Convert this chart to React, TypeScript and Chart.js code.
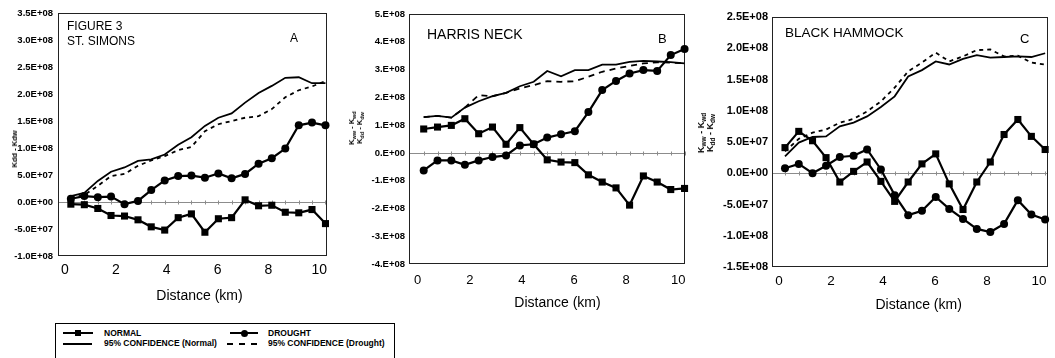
import React, { useEffect, useRef } from "react";
import { Chart, registerables } from "chart.js";
Chart.register(...registerables);

const FONT = "'Liberation Sans', Arial, Helvetica, sans-serif";

// Distance along transect (km)
const distances = [0.23, 0.76, 1.29, 1.81, 2.34, 2.87, 3.39, 3.92, 4.45, 4.97, 5.5, 6.03, 6.55, 7.08, 7.61, 8.13, 8.66, 9.19, 9.71, 10.24];
const xTickValues = [0, 2, 4, 6, 8, 10];
const xTickLabels = ["0", "2", "4", "6", "8", "10"];

// Panel A – St. Simons
const normalA = [-0.04e8, -0.05e8, -0.12e8, -0.25e8, -0.26e8, -0.33e8, -0.46e8, -0.52e8, -0.29e8, -0.22e8, -0.56e8, -0.31e8, -0.29e8, 0.04e8, -0.07e8, -0.06e8, -0.19e8, -0.2e8, -0.14e8, -0.4e8];
const droughtA = [0.06e8, 0.11e8, 0.09e8, 0.1e8, -0.04e8, 0.02e8, 0.22e8, 0.4e8, 0.48e8, 0.49e8, 0.45e8, 0.53e8, 0.44e8, 0.52e8, 0.71e8, 0.81e8, 0.99e8, 1.42e8, 1.47e8, 1.42e8];
const confNormalA = [0.11e8, 0.17e8, 0.39e8, 0.56e8, 0.64e8, 0.76e8, 0.79e8, 0.88e8, 1.06e8, 1.2e8, 1.41e8, 1.56e8, 1.64e8, 1.84e8, 2.02e8, 2.15e8, 2.3e8, 2.31e8, 2.2e8, 2.2e8];
const confDroughtA = [0.08e8, 0.13e8, 0.3e8, 0.48e8, 0.52e8, 0.67e8, 0.77e8, 0.85e8, 0.96e8, 1.02e8, 1.31e8, 1.44e8, 1.5e8, 1.56e8, 1.59e8, 1.72e8, 1.94e8, 2.07e8, 2.14e8, 2.24e8];
const yTickValuesA = [-1e8, -0.5e8, 0, 0.5e8, 1e8, 1.5e8, 2e8, 2.5e8, 3e8, 3.5e8];
const yTickLabelsA = ["-1.0E+08", "-5.0E+07", "0.0E+00", "5.0E+07", "1.0E+08", "1.5E+08", "2.0E+08", "2.5E+08", "3.0E+08", "3.5E+08"];

// Panel B – Harris Neck
const normalB = [0.86e8, 0.93e8, 0.99e8, 1.23e8, 0.69e8, 0.93e8, 0.31e8, 0.91e8, 0.31e8, -0.25e8, -0.33e8, -0.35e8, -0.79e8, -1.05e8, -1.26e8, -1.88e8, -0.83e8, -1.05e8, -1.32e8, -1.28e8];
const droughtB = [-0.63e8, -0.27e8, -0.27e8, -0.43e8, -0.27e8, -0.15e8, -0.09e8, 0.27e8, 0.31e8, 0.55e8, 0.67e8, 0.78e8, 1.47e8, 2.26e8, 2.59e8, 2.86e8, 2.98e8, 2.95e8, 3.52e8, 3.74e8];
const confNormalB = [1.29e8, 1.33e8, 1.27e8, 1.63e8, 1.86e8, 2.04e8, 2.16e8, 2.4e8, 2.56e8, 2.95e8, 2.76e8, 2.98e8, 2.98e8, 3.18e8, 3.18e8, 3.28e8, 3.31e8, 3.29e8, 3.27e8, 3.22e8];
const confDroughtB = [1.29e8, 1.33e8, 1.27e8, 1.63e8, 2.08e8, 2.04e8, 2.16e8, 2.32e8, 2.44e8, 2.58e8, 2.56e8, 2.58e8, 2.74e8, 2.92e8, 3.04e8, 3.13e8, 3.22e8, 3.26e8, 3.25e8, 3.22e8];
const yTickValuesB = [-4e8, -3e8, -2e8, -1e8, 0, 1e8, 2e8, 3e8, 4e8, 5e8];
const yTickLabelsB = ["-4.E+08", "-3.E+08", "-2.E+08", "-1.E+08", "0.E+00", "1.E+08", "2.E+08", "3.E+08", "4.E+08", "5.E+08"];

// Panel C – Black Hammock
const normalC = [0.41e8, 0.67e8, 0.52e8, 0.25e8, -0.14e8, 0.03e8, 0.18e8, -0.13e8, -0.45e8, -0.14e8, 0.15e8, 0.31e8, -0.17e8, -0.58e8, -0.14e8, 0.18e8, 0.62e8, 0.86e8, 0.59e8, 0.38e8];
const droughtC = [0.08e8, 0.15e8, 0.0, 0.12e8, 0.26e8, 0.28e8, 0.38e8, 0.06e8, -0.35e8, -0.67e8, -0.6e8, -0.38e8, -0.57e8, -0.73e8, -0.89e8, -0.94e8, -0.81e8, -0.43e8, -0.66e8, -0.74e8];
const confNormalC = [0.27e8, 0.49e8, 0.58e8, 0.59e8, 0.75e8, 0.81e8, 0.91e8, 1.06e8, 1.23e8, 1.55e8, 1.65e8, 1.79e8, 1.74e8, 1.83e8, 1.89e8, 1.85e8, 1.86e8, 1.87e8, 1.86e8, 1.92e8];
const confDroughtC = [0.35e8, 0.55e8, 0.65e8, 0.7e8, 0.81e8, 0.87e8, 0.99e8, 1.15e8, 1.37e8, 1.63e8, 1.77e8, 1.93e8, 1.79e8, 1.87e8, 1.97e8, 1.98e8, 1.87e8, 1.88e8, 1.77e8, 1.74e8];
const yTickValuesC = [-1.5e8, -1e8, -0.5e8, 0, 0.5e8, 1e8, 1.5e8, 2e8, 2.5e8];
const yTickLabelsC = ["-1.5E+08", "-1.0E+08", "-5.0E+07", "0.0E+00", "5.0E+07", "1.0E+08", "1.5E+08", "2.0E+08", "2.5E+08"];

const framePlugin = {
  id: "frame",
  beforeDatasetsDraw(chart: any) {
    const { ctx, chartArea: a, scales } = chart;
    const y0 = Math.round(scales.y.getPixelForValue(0)) + 0.5;
    ctx.save();
    ctx.strokeStyle = "#8c8c8c";
    ctx.lineWidth = 1;
    ctx.beginPath();
    ctx.moveTo(a.left, y0);
    ctx.lineTo(a.right, y0);
    for (const d of distances) {
      const x = Math.round(scales.x.getPixelForValue(d)) + 0.5;
      ctx.moveTo(x, y0 - 2);
      ctx.lineTo(x, y0 + 2);
    }
    ctx.stroke();
    ctx.strokeStyle = "#222";
    ctx.strokeRect(a.left + 0.5, a.top + 0.5, a.right - a.left - 1, a.bottom - a.top - 1);
    ctx.restore();
  },
};

type PanelProps = {
  left: number; top: number; width: number; height: number;
  area: { left: number; right: number; top: number; bottom: number };
  xMin: number; xMax: number; yMin: number; yMax: number;
  yTickValues: number[]; yTickLabels: string[];
  normal: number[]; drought: number[]; confNormal: number[]; confDrought: number[];
  dash: number[]; yFont: number; xFont: number; yPad: number; xPad: number;
};

function Panel(p: PanelProps) {
  const ref = useRef<HTMLCanvasElement>(null);
  useEffect(() => {
    const mk = (vals: number[]) => vals.map((v, i) => ({ x: distances[i], y: v }));
    const chart = new Chart(ref.current as HTMLCanvasElement, {
      type: "line",
      data: {
        datasets: [
          { label: "95% CONFIDENCE (Normal)", data: mk(p.confNormal), borderColor: "#000", borderWidth: 1.8, pointRadius: 0, tension: 0, clip: false } as any,
          { label: "95% CONFIDENCE (Drought)", data: mk(p.confDrought), borderColor: "#000", borderWidth: 1.8, borderDash: p.dash, pointRadius: 0, tension: 0, clip: false } as any,
          { label: "NORMAL", data: mk(p.normal), borderColor: "#000", borderWidth: 2.2, pointStyle: "rect", pointRadius: 5, pointBackgroundColor: "#000", pointBorderColor: "#000", pointBorderWidth: 0, tension: 0, clip: false } as any,
          { label: "DROUGHT", data: mk(p.drought), borderColor: "#000", borderWidth: 2.2, pointStyle: "circle", pointRadius: 4, pointBackgroundColor: "#000", pointBorderColor: "#000", pointBorderWidth: 0, tension: 0, clip: false } as any,
        ],
      },
      options: {
        animation: false,
        responsive: false,
        maintainAspectRatio: false,
        events: [],
        layout: { padding: { left: 0, top: p.area.top, right: p.width - p.area.right, bottom: 0 } },
        plugins: { legend: { display: false }, tooltip: { enabled: false }, title: { display: false } },
        scales: {
          x: {
            type: "linear", min: p.xMin, max: p.xMax,
            grid: { display: false, drawTicks: false, tickLength: 0 }, border: { display: false },
            afterBuildTicks: (s: any) => { s.ticks = xTickValues.map((v) => ({ value: v })); },
            afterFit: (s: any) => { s.height = p.height - p.area.bottom; },
            ticks: {
              font: { size: p.xFont, family: FONT }, color: "#000", padding: p.xPad,
              maxRotation: 0, autoSkip: false,
              callback: (_v: any, i: number) => xTickLabels[i],
            },
          },
          y: {
            type: "linear", min: p.yMin, max: p.yMax,
            grid: { display: false, drawTicks: false, tickLength: 0 }, border: { display: false },
            afterBuildTicks: (s: any) => { s.ticks = p.yTickValues.map((v) => ({ value: v })); },
            afterFit: (s: any) => { s.width = p.area.left; },
            ticks: {
              font: { size: p.yFont, family: FONT, weight: "bold" }, color: "#000", padding: p.yPad,
              autoSkip: false,
              callback: (_v: any, i: number) => p.yTickLabels[i],
            },
          },
        },
      } as any,
      plugins: [framePlugin],
    });
    return () => chart.destroy();
  }, []);
  return (
    <canvas
      ref={ref}
      width={p.width}
      height={p.height}
      style={{ position: "absolute", left: p.left, top: p.top, width: p.width, height: p.height }}
    />
  );
}

const txt = (s: React.CSSProperties): React.CSSProperties => ({
  position: "absolute", fontFamily: FONT, color: "#000", whiteSpace: "nowrap", ...s,
});

function RotTitle(props: { cx: number; cy: number; size: number; sub: number; lh: number; lines: [string, string, string, string][] }) {
  const subStyle: React.CSSProperties = { fontSize: props.sub, position: "relative", top: props.sub * 0.35, verticalAlign: "baseline", lineHeight: 0 };
  return (
    <div
      style={txt({
        left: props.cx, top: props.cy, transform: "translate(-50%, -50%) rotate(-90deg)",
        fontSize: props.size, fontWeight: "bold", lineHeight: props.lh + "px", textAlign: "center",
      })}
    >
      {props.lines.map((l, i) => (
        <div key={i} style={{ height: props.lh, lineHeight: props.lh + "px" }}>
          {l[0]}<span style={subStyle}>{l[1]}</span>
          {" - "}
          {l[2]}<span style={subStyle}>{l[3]}</span>
        </div>
      ))}
    </div>
  );
}

export default function App() {
  return (
    <div style={{ position: "absolute", left: 0, top: 0, width: 1055, height: 358, background: "#fff", overflow: "hidden" }}>
      <Panel
        left={0} top={0} width={345} height={300}
        area={{ left: 58, right: 327, top: 13, bottom: 256 }}
        xMin={-0.275} xMax={10.3} yMin={-1e8} yMax={3.5e8}
        yTickValues={yTickValuesA} yTickLabels={yTickLabelsA}
        normal={normalA} drought={droughtA} confNormal={confNormalA} confDrought={confDroughtA}
        dash={[4, 4]} yFont={9.5} xFont={14} yPad={5} xPad={6}
      />
      <Panel
        left={345} top={0} width={355} height={310}
        area={{ left: 64, right: 340, top: 14, bottom: 264 }}
        xMin={-0.334} xMax={10.257} yMin={-4e8} yMax={5e8}
        yTickValues={yTickValuesB} yTickLabels={yTickLabelsB}
        normal={normalB} drought={droughtB} confNormal={confNormalB} confDrought={confDroughtB}
        dash={[6, 5]} yFont={9.5} xFont={13} yPad={4} xPad={9}
      />
      <Panel
        left={700} top={0} width={355} height={310}
        area={{ left: 72, right: 348, top: 17, bottom: 267 }}
        xMin={-0.27} xMax={10.35} yMin={-1.5e8} yMax={2.5e8}
        yTickValues={yTickValuesC} yTickLabels={yTickLabelsC}
        normal={normalC} drought={droughtC} confNormal={confNormalC} confDrought={confDroughtC}
        dash={[4, 4]} yFont={11} xFont={13.5} yPad={4} xPad={6.5}
      />

      {/* in-plot titles */}
      <div style={txt({ left: 67, top: 20, fontSize: 12, lineHeight: "12px" })}>FIGURE 3</div>
      <div style={txt({ left: 67, top: 35, fontSize: 12, lineHeight: "12px" })}>ST. SIMONS</div>
      <div style={txt({ left: 290, top: 32, fontSize: 12, lineHeight: "12px" })}>A</div>
      <div style={txt({ left: 427, top: 26.5, fontSize: 14, lineHeight: "14px" })}>HARRIS NECK</div>
      <div style={txt({ left: 658, top: 32, fontSize: 13, lineHeight: "13px" })}>B</div>
      <div style={txt({ left: 785, top: 25.5, fontSize: 13.5, lineHeight: "14px" })}>BLACK HAMMOCK</div>
      <div style={txt({ left: 1020, top: 32, fontSize: 13, lineHeight: "13px" })}>C</div>

      {/* axis titles */}
      <div style={txt({ left: 15, top: 149, fontSize: 7.5, fontWeight: "bold", lineHeight: "8px", transform: "translate(-50%, -50%) rotate(-90deg)" })}>Kdd - Kdw</div>
      <RotTitle cx={355.5} cy={128} size={7.5} sub={5.5} lh={8} lines={[["K", "ww", "K", "wd"], ["K", "dd", "K", "dw"]]} />
      <RotTitle cx={705.5} cy={133} size={9} sub={6.5} lh={9} lines={[["K", "ww", "K", "wd"], ["K", "dd", "K", "dw"]]} />
      <div style={txt({ left: 199.5, top: 288, fontSize: 14, lineHeight: "14px", transform: "translateX(-50%)" })}>Distance (km)</div>
      <div style={txt({ left: 557.5, top: 295, fontSize: 14, lineHeight: "14px", transform: "translateX(-50%)" })}>Distance (km)</div>
      <div style={txt({ left: 918.7, top: 296.5, fontSize: 14, lineHeight: "14px", transform: "translateX(-50%)" })}>Distance (km)</div>

      {/* legend */}
      <div style={{ position: "absolute", left: 55, top: 323, width: 340, height: 40, border: "1px solid #000", boxSizing: "border-box" }} />
      <div style={{ position: "absolute", left: 63, top: 332, width: 30, height: 2, background: "#000" }} />
      <div style={{ position: "absolute", left: 75, top: 330, width: 6, height: 6, background: "#000" }} />
      <div style={txt({ left: 104, top: 328.6, fontSize: 8.5, fontWeight: "bold", lineHeight: "9px" })}>NORMAL</div>
      <div style={{ position: "absolute", left: 230, top: 332, width: 28, height: 2, background: "#000" }} />
      <div style={{ position: "absolute", left: 240.5, top: 329.5, width: 7, height: 7, borderRadius: "50%", background: "#000" }} />
      <div style={txt({ left: 268, top: 328.6, fontSize: 8.5, fontWeight: "bold", lineHeight: "9px" })}>DROUGHT</div>
      <div style={{ position: "absolute", left: 63, top: 343, width: 29, height: 2, background: "#000" }} />
      <div style={txt({ left: 104, top: 339.3, fontSize: 8.5, fontWeight: "bold", lineHeight: "9px" })}>95% CONFIDENCE (Normal)</div>
      <div style={{ position: "absolute", left: 227, top: 343, width: 6, height: 2, background: "#000" }} />
      <div style={{ position: "absolute", left: 239, top: 343, width: 6, height: 2, background: "#000" }} />
      <div style={{ position: "absolute", left: 251, top: 343, width: 6, height: 2, background: "#000" }} />
      <div style={txt({ left: 268, top: 339.3, fontSize: 8.5, fontWeight: "bold", lineHeight: "9px" })}>95% CONFIDENCE (Drought)</div>
    </div>
  );
}
